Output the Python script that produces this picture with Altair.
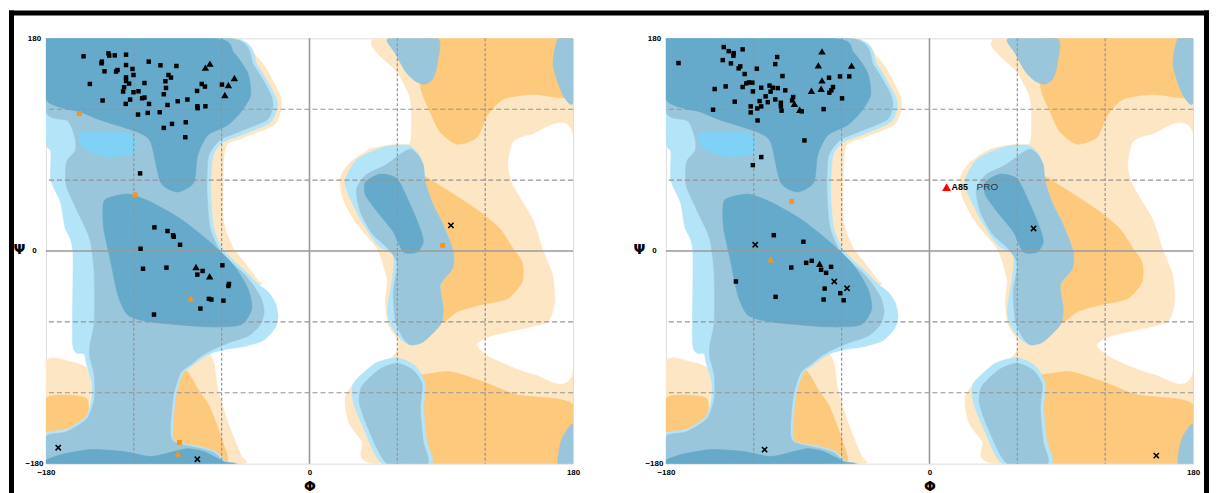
import altair as alt
import pandas as pd

# ---------------- background regions (phi, psi) in degrees ----------------
GA_RIGHT = [(46.4,180),(180,180),(180,-180),(45,-180),(36.1,-161.4),(26.6,-144.5),(24.5,-123.4),(33.4,-109),
            (50.4,-95.5),(58.6,-87),(60.7,-76.9),(53.9,-62.5),(51.8,-43.1),(53.2,-26.2),(51.8,-17.7),(46.4,1.7),
            (31.4,24.5),(22.5,45.6),(21.1,62.5),(28,75.2),(41.6,86.2),(58.6,90.4),(68.9,92.1),(68.9,128.5),(60,151.3)]
GA_LEFT = [(-48,180),(-31,157),(-21,134),(-19,123),(-24,107),(-45,96),(-57,89),(-59,60),(-58.6,24.5),(-52.5,3.4),
           (-43.6,-11),(-35.5,-24.5),(-33,-28),(-50,-28),(-70,0),(-72,60),(-72,100),(-60,120),(-58,180)]
GA_LOWER_MID = [(-72.3,-82.8),(-65.5,-93.8),(-62.7,-116.6),(-55.9,-144.5),(-47,-172.4),(-45,-180),(-95,-180),(-95,-82.8)]
GA_LOWER_LEFT = [(-180,-93.8),(-163,-93.8),(-151.4,-99.7),(-149.3,-114.9),(-150.7,-131.8),(-156.1,-144.5),
                 (-169.8,-153),(-180,-154.6)]
WHITE_RIGHT = [(180,98),(150.7,98),(139.1,92.1),(135.7,72.7),(139.1,55.8),(152.7,27.1),(159.5,1.7),(166.4,-20.3),
               (167.7,-43.1),(163,-60),(143.9,-66.7),(123.4,-72.6),(114.5,-79.4),(123.4,-89.6),(152.7,-103.9),(180,-100.5)]
GF_TOP = [(78,180),(75.7,140.3),(82.5,117.5),(89.3,100.6),(100.9,90.4),(114.5,96.3),(121.4,114.9),(132.3,128.5),
          (152.7,132.7),(180,131.8),(180,180)]
GF_MID = [(68.9,71),(77.7,64.2),(96.1,49.9),(116.6,33),(130.2,18.6),(139.1,1.7),(145.2,-9.3),(145.2,-26.2),
          (135,-40.5),(116.6,-45.6),(100.9,-51.5),(91.4,-60),(79.1,-60),(75.7,-0.8),(68.9,41.4)]
GF_BOTTOM = [(70,-105),(77.7,-104.8),(96.1,-102.2),(118.6,-110.7),(141.8,-121.7),(180,-130.1),(180,-180),(70,-180)]
GF_LOWER_MID = [(-88,-102.2),(-83.2,-102.2),(-76.4,-116.6),(-68.9,-130.1),(-64.1,-144.5),(-59.3,-161.4),
                (-57.3,-180),(-93.4,-180),(-93.4,-133.5),(-91.4,-114.9)]
GF_LOWER_LEFT = [(-180,-125),(-165,-122),(-152,-125),(-152,-140),(-165,-150),(-180,-153)]

B_LIGHT = [(-180,180),(-52,180),(-35.5,157),(-24.5,134),(-21.8,123.4),(-26.6,109),(-47,98),(-59.3,92),(-66,80),
           (-67.5,50),(-65.5,20),(-60,3),(-52,-8),(-43,-18),(-37,-26),(-28,-35),(-23,-45),(-21.5,-56),(-24,-66),
           (-32,-76),(-45,-81),(-56,-83),(-66,-86),(-72.3,-90),(-80,-97),(-86.6,-104),(-91.4,-123.4),(-93.4,-153),
           (-91.4,-161.4),(-74.3,-165.6),(-64.1,-169.8),(-57.3,-178.3),(-54,-180),(-180,-180),(-180,-154.6),
           (-166.4,-151.3),(-152.7,-140.3),(-149,-125),(-149,-110),(-152.7,-93.8),(-154,-87),(-161.6,-80),
           (-161.6,0),(-167,20),(-170,41),(-176.6,60),(-176.6,84),(-180,95)]
B_MID = [(-180,180),(-54,180),(-38,157),(-27,134),(-25,123),(-29,111),(-48,101),(-61,94),(-69,80),(-70,50),
         (-68,20),(-62,2),(-54,-9),(-45,-19),(-39,-28),(-33,-40),(-31,-52),(-34,-63),(-42,-72),(-56,-78),(-67,-84),
         (-74,-89),(-81,-96),(-88,-103),(-93,-123),(-95,-153),(-92,-162),(-75,-167),(-65,-171),(-58,-179),(-56,-180),
         (-180,-180),(-180,-157),(-166,-153),(-152,-142),(-147,-125),(-147,-105),(-150,-90),(-150,-80),(-147,-60),
         (-147,-20),(-150,10),(-159,35),(-166,55),(-166,75),(-160,85),(-160,95),(-165,110),(-180,118)]
CYAN = [(-156,100),(-125,100),(-118,92),(-122,82),(-140,80),(-155,88)]
BETA_DARK = [(-180,180),(-65.5,180),(-51.8,168),(-42.3,151),(-40.2,132),(-47,117.5),(-56,106.5),(-69.5,98),
             (-76.4,81),(-79,58),(-90,50),(-101.6,58),(-108.4,92),(-117.3,100.6),(-142.5,110.7),(-156,117.5),(-180,128.5)]
ALPHA_DARK = [(-139.1,44),(-124.1,48.2),(-108.4,41.4),(-88,27.1),(-68,7.6),(-52,-11.8),(-42,-32),(-39.5,-49),
              (-47,-62.5),(-69.5,-64.2),(-108.4,-60),(-124.1,-54.1),(-130.9,-37.2),(-135.7,-9.3),(-140.5,18.6),(-141.1,35.5)]
BOTTOM_DARK = [(-180,-177),(-169.8,-172.4),(-149.3,-168.1),(-126.8,-169.8),(-108.4,-174),(-92.7,-169.8),
               (-83.2,-167.3),(-72.3,-169.8),(-58.6,-178.3),(-57.5,-180),(-180,-180)]
AL_LIGHT = [(24.5,60.9),(32.7,77.8),(50.4,87.9),(66.8,89.6),(73.6,83.7),(77.7,72.7),(79.1,58.3),(84.5,38.9),
            (91.4,22),(98.2,-0.8),(97.5,-15.2),(89.3,-28.7),(91.4,-49),(89.3,-62.5),(77.7,-76.9),(68.9,-79.4),
            (62,-74.3),(55.2,-62.5),(53.2,-49),(56.6,-23.6),(57.3,-3.4),(46.4,5.1),(34.8,27.1),(25.9,49.9)]
AL_MID = [(38.2,64.2),(51.8,72.7),(62,82),(68.9,86.2),(74.3,81.1),(77.7,72.7),(79.1,58.3),(84.5,38.9),(91.4,22),
          (98.2,-0.8),(97.5,-15.2),(89.3,-28.7),(91.4,-49),(89.3,-62.5),(77.7,-76.9),(68.9,-79.4),(63.4,-72.6),
          (58.6,-58.3),(57.3,-34.6),(60,-11),(53.9,1.7),(43,14.4),(34.8,33),(32,51.6)]
AL_DARK = [(38.2,58.3),(48.4,65.1),(60,60.9),(68.9,38.9),(75.7,18.6),(77.7,7.6),(73.6,-0.8),(64.1,-0.8),
           (57.3,16.1),(46.4,33),(38.2,47.3)]
TOP_BLOB = [(53.9,180),(58.6,167.3),(65.4,152.1),(72.3,143.7),(79.1,141.2),(84.5,146.2),(87.3,158.9),(87.3,180)]
TOP_RIGHT = [(169.8,180),(166.4,157.2),(173.2,131.8),(180,126),(180,180)]
LOWER_R_LIGHT = [(30,-112),(45,-95),(60,-90.5),(72,-97),(79,-112),(78,-133),(80,-160),(83,-180),(50,-180),(37,-150),(30,-128)]
LOWER_R_MID = [(36,-114),(48,-100),(60,-95),(70.9,-101),(77,-113.2),(75.7,-133.5),(77.7,-161.4),(80.5,-180),
               (53.2,-180),(40,-150),(34,-128)]
BR_CORNER = [(180,-147),(174,-155),(171,-165),(170,-180),(180,-180)]

LIGHT_ORANGE = "#fde6c3"
ORANGE = "#fdc97c"
LIGHT_BLUE = "#b4e4f8"
MID_BLUE = "#9ac6db"
DARK_BLUE = "#66aacb"
CYAN_BLUE = "#7fd2f5"

REGIONS = [
    (GA_RIGHT, LIGHT_ORANGE), (GA_LEFT, LIGHT_ORANGE), (GA_LOWER_MID, LIGHT_ORANGE), (GA_LOWER_LEFT, LIGHT_ORANGE),
    (WHITE_RIGHT, "#ffffff"),
    (GF_TOP, ORANGE), (GF_MID, ORANGE), (GF_BOTTOM, ORANGE), (GF_LOWER_MID, ORANGE), (GF_LOWER_LEFT, ORANGE),
    (B_LIGHT, LIGHT_BLUE), (AL_LIGHT, LIGHT_BLUE), (LOWER_R_LIGHT, LIGHT_BLUE),
    (B_MID, MID_BLUE), (AL_MID, MID_BLUE), (TOP_BLOB, MID_BLUE), (TOP_RIGHT, MID_BLUE), (LOWER_R_MID, MID_BLUE),
    (BR_CORNER, MID_BLUE),
    (CYAN, CYAN_BLUE),
    (BETA_DARK, DARK_BLUE), (ALPHA_DARK, DARK_BLUE), (BOTTOM_DARK, DARK_BLUE), (AL_DARK, DARK_BLUE),
]

# ---------------- residues (phi, psi) ----------------
left_squares = [(-154.3,164.8),(-137.3,167.3),(-136.8,165.4),(-133,165.6),(-125.3,166.2),(-141.8,160.3),(-142,158.9),
    (-140,152.1),(-132.1,151.9),(-131.1,153.2),(-125.3,157.4),(-120.9,154.1),(-120.2,149),(-109.8,160.3),(-101.8,157.2),
    (-90.9,156.6),(-150,141.4),(-125.3,147),(-125.3,143.9),(-123.2,141.7),(-126.6,138.6),(-127.3,135),(-120.2,134.4),
    (-116.8,135.2),(-112.7,142.2),(-98.4,143.7),(-96.3,149),(-94.6,146.8),(-98,138),(-99.5,132.7),(-141.3,127.4),
    (-125.5,124.5),(-122.5,128.2),(-114.3,129.3),(-112.7,129.9),(-109.6,124.5),(-117.1,115.5),(-110.5,116.9),
    (-102.3,117.5),(-97,123.6),(-90,126.8),(-83.4,128.2),(-76.6,122.5),(-76.4,120.9),(-71.1,122.5),(-93.9,107.6),
    (-84.5,109),(-99.5,104.2),(-84.8,96.3),(-76.8,135.5),(-73.6,141.4),(-71.4,139.2),(-59.8,140.9),
    (-115.7,65.7),(-105.9,20),(-97,16.9),(-93.2,13.3),(-92.7,12.1),(-88.4,5.3),(-115.4,1.9),(-113.7,-15),(-97.7,-14.1),
    (-73,-16.9),(-76.6,-20),(-59.5,-12.1),(-55,-27.9),(-55.4,-29.6),(-68.7,-40.5),(-67,-41.1),(-58.8,-42),
    (-74.5,-48.7),(-106.2,-53.8)]
left_triangles = [(-68,158.6),(-71.1,155.2),(-55.4,140.5),(-51.3,146.5),(-57.8,132.1),(-77.5,-13.5),(-68.2,-21.4)]
left_crosses = [(-171.6,-166.5),(-76.6,-176.3),(96.6,21.7)]
left_orange_squares = [(-157.2,116.4),(-119.1,47.6),(-88.8,-162),(90.9,4.8)]
left_orange_triangles = [(-81.1,-40.3),(-89.8,-171.6)]

right_squares = [(-171.4,159.1),(-140.5,172.6),(-137.1,169.2),(-133.7,167.5),(-133.9,165.3),(-127.6,170.7),
    (-141.2,161.6),(-135.6,158.8),(-130.3,154.6),(-129.2,156.3),(-126.2,149.8),(-117.9,154.3),(-104,164.2),
    (-105.3,158.2),(-100.4,148.1),(-146.7,137.1),(-139.2,139.3),(-127.6,138.8),(-125.1,141.9),(-123.3,142.7),
    (-121,142.5),(-120.6,135.1),(-114.9,138.2),(-109.2,140),(-107,138.2),(-103.6,137.9),(-98.5,136),(-108.5,134.9),
    (-111.9,130.9),(-105.3,128.3),(-110.4,126),(-116,126.9),(-133,126.4),(-147.8,119.6),(-122.1,122.4),
    (-114.9,122.4),(-117.6,120.7),(-122.1,117.3),(-101.5,125.5),(-101.5,122.4),(-101,118.8),(-93.1,130.3),
    (-93.8,127.5),(-87.2,118.2),(-68.6,146.7),(-61.1,147.8),(-54.8,147.8),(-65.9,138.8),(-67,136),(-68.4,134),
    (-59.7,129.2),(-72.3,120.1),(-117.4,110.5),(-114.9,79.5),(-120.6,72.7),(-85.4,93.6),
    (-106.3,13.4),(-86.1,7.8),(-94.4,-14),(-84.2,-10),(-80.4,-8.3),(-74,-15.9),(-70.6,-18.5),(-67.2,-13.4),
    (-132.2,-25.8),(-71.6,-31.8),(-60.9,-35.7),(-105.1,-38.8),(-72.3,-41.1),(-58.6,-41.7)]
right_triangles = [(-73.4,169),(-75.9,157.1),(-53.2,156.9),(-73.4,144.4),(-74,137.4),(-80.6,135.7),(-92.2,124.7),
    (-88.6,119.6),(-75,-10.8)]
right_crosses = [(-119,5.3),(-65,-25.8),(-56.3,-31.5),(71.1,19.1),(-112.6,-168.1),(154.9,-173.2)]
right_orange_squares = [(-94,42)]
right_orange_triangles = [(-108.5,-7.2)]
right_outlier = [(11.7,54)]
outlier_residue = ["A85"]
outlier_name = ["PRO"]

grid_dashed = [-120, -60, 60, 120]
grid_solid = [0]
tick_values = [-180, 0, 180]

W, H = 528, 426

XAXIS = alt.Axis(values=tick_values, title="Φ", grid=False, ticks=False, domain=False, labelFontSize=8,
                 labelFontWeight="bold", labelFont="Liberation Sans", labelColor="black", labelPadding=5,
                 labelFlush=False, labelOverlap=False, labelAngle=0,
                 titleFont="DejaVu Sans", titleFontSize=14, titleFontWeight="bold", titleColor="black",
                 titleX=264, titleY=23, titleAlign="center", titleBaseline="middle")
YAXIS = alt.Axis(values=tick_values, title="Ψ", grid=False, ticks=False, domain=False, labelFontSize=8,
                 labelFontWeight="bold", labelFont="Liberation Sans", labelColor="black", labelPadding=12,
                 labelAlign="center", labelOverlap=False,
                 titleFont="DejaVu Sans", titleFontSize=14, titleFontWeight="bold", titleColor="black",
                 titleAngle=0, titleX=-27, titleY=212, titleAlign="center", titleBaseline="middle")
SCALE = alt.Scale(domain=[-180, 180], nice=False, zero=False)


def X(f):
    return alt.X(f, type="quantitative", scale=SCALE, axis=XAXIS)


def Y(f):
    return alt.Y(f, type="quantitative", scale=SCALE, axis=YAXIS)


def pts(lst):
    return pd.DataFrame({"phi": [p[0] for p in lst], "psi": [p[1] for p in lst]})


def region_layers():
    layers = []
    for poly, col in REGIONS:
        df = pd.DataFrame({"phi": [p[0] for p in poly], "psi": [p[1] for p in poly],
                           "i": list(range(len(poly)))})
        layers.append(alt.Chart(df).mark_line(fill=col, stroke=col, strokeWidth=0.6, clip=True,
                                              interpolate="cardinal-closed", tension=0.3)
                      .encode(x=X("phi"), y=Y("psi"), order=alt.Order("i:Q")))
    return layers


def grid_layers():
    dv = pd.DataFrame({"g": grid_dashed})
    ds = pd.DataFrame({"g": grid_solid})
    return [
        alt.Chart(dv).mark_rule(color="#949494", strokeWidth=1.2, strokeDash=[3, 2]).encode(x=X("g")),
        alt.Chart(dv).mark_rule(color="#949494", strokeWidth=1.2, strokeDash=[5, 3]).encode(y=Y("g")),
        alt.Chart(ds).mark_rule(color="#9a9a9a", strokeWidth=1.6).encode(x=X("g")),
        alt.Chart(ds).mark_rule(color="#9a9a9a", strokeWidth=1.6).encode(y=Y("g")),
    ]


def point_layers(sq, tri, cr, osq, otri):
    L = []
    L.append(alt.Chart(pts(sq)).mark_square(color="black", size=20, opacity=1).encode(x=X("phi"), y=Y("psi")))
    L.append(alt.Chart(pts(tri)).mark_point(shape="triangle-up", filled=True, color="black", size=55, opacity=1)
             .encode(x=X("phi"), y=Y("psi")))
    L.append(alt.Chart(pts(cr)).mark_point(shape="M-1,-1L1,1M-1,1L1,-1", filled=False, color="black",
                                            strokeWidth=1.6, size=28, opacity=1).encode(x=X("phi"), y=Y("psi")))
    L.append(alt.Chart(pts(osq)).mark_square(color="#f7941d", size=24, opacity=1).encode(x=X("phi"), y=Y("psi")))
    L.append(alt.Chart(pts(otri)).mark_point(shape="triangle-up", filled=True, color="#f7941d", size=50, opacity=1)
             .encode(x=X("phi"), y=Y("psi")))
    return L


one = alt.Data(values=[{}])


def bar(x1, x2, y1, y2):
    return alt.Chart(one).mark_rect(color="black", strokeWidth=0).encode(
        x=alt.value(x1), x2=alt.value(x2), y=alt.value(y1), y2=alt.value(y2))


# left panel
left_layers = region_layers() + grid_layers() + point_layers(
    left_squares, left_triangles, left_crosses, left_orange_squares, left_orange_triangles)
left_layers.append(bar(-37, 1165, -28, -23))
left_layers.append(bar(-37, -32, -28, 456))
left = alt.layer(*left_layers).properties(width=W, height=H)

# right panel
out_df = pts(right_outlier)
out_df["res"] = outlier_residue
out_df["name"] = outlier_name
right_layers = region_layers() + grid_layers() + point_layers(
    right_squares, right_triangles, right_crosses, right_orange_squares, right_orange_triangles)
right_layers.append(alt.Chart(out_df).mark_point(shape="triangle-up", filled=True, color="#ff0000", size=80, opacity=1)
                    .encode(x=X("phi"), y=Y("psi")))
right_layers.append(alt.Chart(out_df).mark_text(align="left", baseline="middle", dx=5, fontSize=9, fontWeight="bold",
                                                font="Liberation Sans", color="black")
                    .encode(x=X("phi"), y=Y("psi"), text="res:N"))
right_layers.append(alt.Chart(out_df).mark_text(align="left", baseline="middle", dx=30, fontSize=10,
                                                font="Liberation Sans", color="#333333")
                    .encode(x=X("phi"), y=Y("psi"), text="name:N"))
right_layers.append(bar(539, 544, -28, 456))
right = alt.layer(*right_layers).properties(width=W, height=H)

chart = alt.hconcat(left, right, spacing=93, bounds="flush",
                    padding={"left": 0, "top": 1, "right": 0, "bottom": 0}
                    ).configure_view(stroke="#9a9a9a", strokeWidth=1.5
                    ).configure(background="white")

chart.save("out.html", embed_options={"renderer": "svg", "actions": False})
